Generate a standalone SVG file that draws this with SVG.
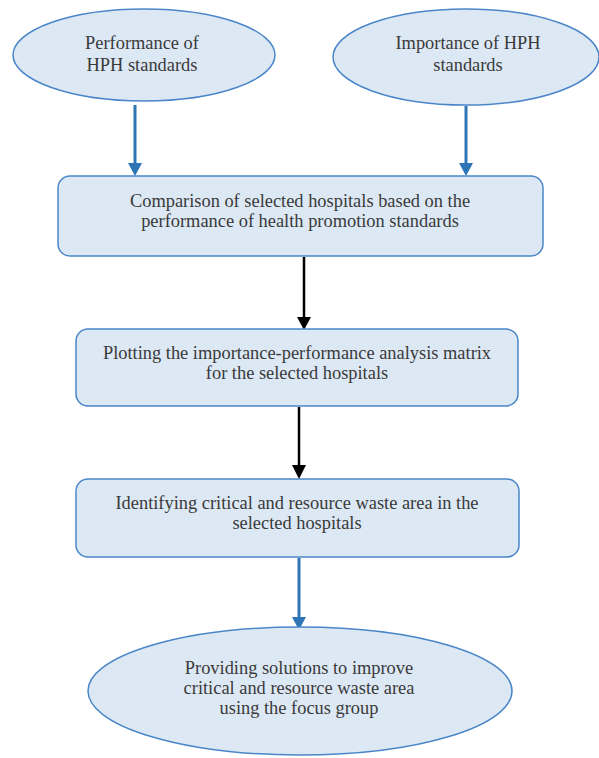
<svg xmlns="http://www.w3.org/2000/svg" width="599" height="758" viewBox="0 0 599 758">
<defs>
<style>
.n{fill:#dde8f5;stroke:#4a86c8;stroke-width:1.5}
.t{font-family:"Liberation Serif","DejaVu Serif",serif;font-size:18.4px;fill:#3a3a3a;text-anchor:middle}
.cb{stroke:#2e75b6;stroke-width:3;fill:none}
.ck{stroke:#000;stroke-width:2.5;fill:none}
</style>
</defs>
<rect width="599" height="758" fill="#fff"/>
<g id="connectors">
<line class="cb" x1="135" y1="105" x2="135" y2="168"/>
<path d="M128,163 L142,163 L135,176 z" fill="#2e75b6"/>
<line class="cb" x1="466" y1="106" x2="466" y2="168"/>
<path d="M459,163 L473,163 L466,176 z" fill="#2e75b6"/>
<line class="ck" x1="304" y1="257" x2="304" y2="322"/>
<path d="M297,317 L311,317 L304,330 z" fill="#000"/>
<line class="ck" x1="299" y1="407" x2="299" y2="470" stroke-width="3.5"/>
<path d="M292,465 L306,465 L299,479 z" fill="#000"/>
<line class="cb" x1="299" y1="558" x2="299" y2="622"/>
<path d="M292,617 L306,617 L299,630 z" fill="#2e75b6"/>
</g>
<g id="n1">
<ellipse class="n" cx="144" cy="55" rx="131" ry="46"/>
<text class="t" x="142" y="49">Performance of</text>
<text class="t" x="142" y="71">HPH standards</text>
</g>
<g id="n2">
<ellipse class="n" cx="466" cy="57" rx="133" ry="48"/>
<text class="t" x="468" y="49">Importance of HPH</text>
<text class="t" x="468" y="71">standards</text>
</g>
<g id="n3">
<rect class="n" x="58" y="176" width="485" height="80" rx="12"/>
<text class="t" x="300" y="207">Comparison of selected hospitals based on the</text>
<text class="t" x="300" y="227">performance of health promotion standards</text>
</g>
<g id="n4">
<rect class="n" x="76" y="329" width="442" height="77" rx="12"/>
<text class="t" x="297" y="359">Plotting the importance-performance analysis matrix</text>
<text class="t" x="297" y="379">for the selected hospitals</text>
</g>
<g id="n5">
<rect class="n" x="76" y="479" width="443" height="78" rx="12"/>
<text class="t" x="297" y="509">Identifying critical and resource waste area in the</text>
<text class="t" x="297" y="529">selected hospitals</text>
</g>
<g id="n6">
<ellipse class="n" cx="300" cy="691" rx="212" ry="64"/>
<text class="t" x="299" y="674">Providing solutions to improve</text>
<text class="t" x="299" y="694">critical and resource waste area</text>
<text class="t" x="299" y="714">using the focus group</text>
</g>
</svg>
